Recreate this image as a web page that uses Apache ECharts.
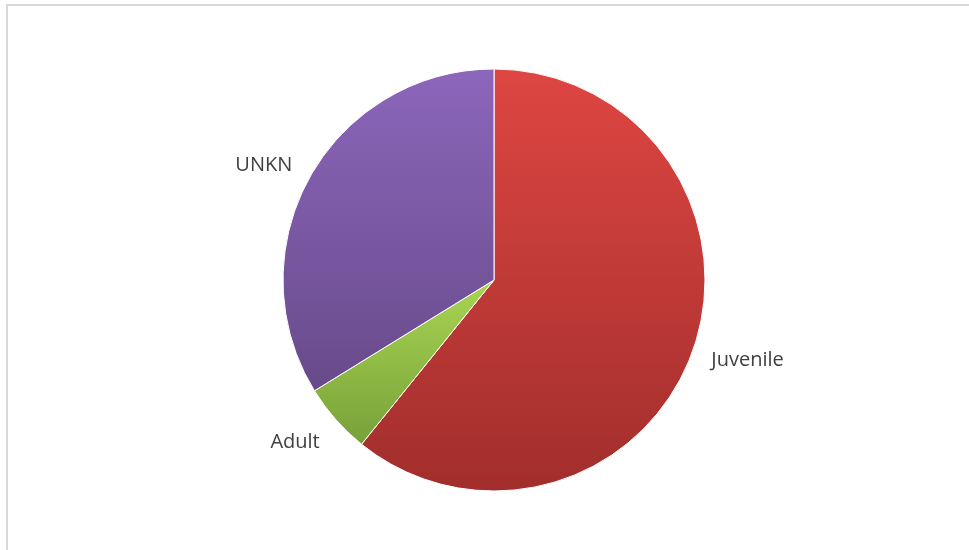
<!DOCTYPE html>
<html>
<head>
<meta charset="utf-8">
<script src="https://cdn.jsdelivr.net/npm/echarts@6/dist/echarts.min.js"></script>
<style>
html,body{margin:0;padding:0;background:#fff;overflow:hidden;}
#frame{position:absolute;left:6px;top:4px;width:980px;height:560px;border-top:2px solid #d9d9d9;border-left:2px solid #d9d9d9;}
#chart{position:absolute;left:0;top:0;width:969px;height:550px;}
</style>
</head>
<body>
<div id="frame"></div>
<div id="chart"></div>
<script>
const categories = ['Juvenile', 'Adult', 'UNKN'];
const values = [60.8, 5.4, 33.8];

const gradients = [
  [[0, '#de4642'], [1, '#a12e2c']],
  [[0.5, '#a9d553'], [0.9, '#76a038']],
  [[0, '#8c66bb'], [0.78, '#674a89']]
];
const labelDy = [6, 15, -6];

const cy = 280, R = 211;
function grad(stops) {
  return {
    type: 'linear', x: 0, y: cy - R, x2: 0, y2: cy + R, global: true,
    colorStops: stops.map(s => ({ offset: s[0], color: s[1] }))
  };
}

const chart = echarts.init(document.getElementById('chart'), null, { renderer: 'canvas' });
chart.setOption({
  animation: false,
  backgroundColor: 'transparent',
  series: [{
    type: 'pie',
    center: [494, cy],
    radius: R,
    startAngle: 90,
    clockwise: true,
    avoidLabelOverlap: false,
    data: categories.map((c, i) => ({
      name: c, value: values[i],
      itemStyle: { color: grad(gradients[i]) }
    })),
    itemStyle: { borderColor: '#ffffff', borderWidth: 1 },
    label: {
      show: true, position: 'outside', formatter: '{b}',
      color: '#404040', fontSize: 20, fontFamily: '"Open Sans", "Noto Sans", sans-serif'
    },
    labelLine: { show: false, length: 12, length2: 2 },
    labelLayout: function (params) {
      return { dy: labelDy[params.dataIndex] };
    },
    emphasis: { disabled: true }
  }]
});
</script>
</body>
</html>
